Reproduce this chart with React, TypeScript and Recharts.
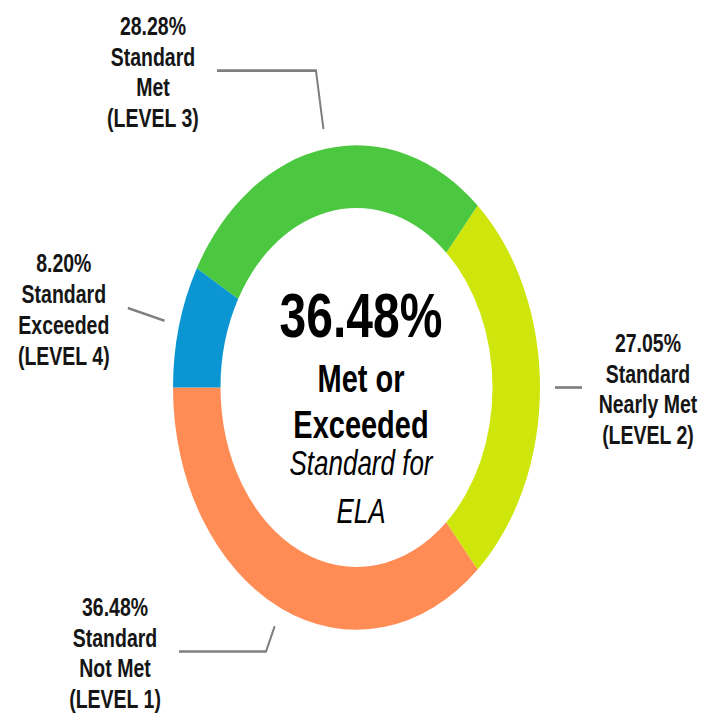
import { PieChart, Pie, Cell } from 'recharts';

const LEVEL_NAMES = ['Not Met', 'Nearly Met', 'Met', 'Exceeded'];
const LEVEL_TAGS = ['(LEVEL 1)', '(LEVEL 2)', '(LEVEL 3)', '(LEVEL 4)'];
const PERCENTS = [36.48, 27.05, 28.28, 8.2];
const SUBJECT = 'ELA';

const COLORS = ['#ff8b55', '#cfe60c', '#4cc840', '#0b96d3'];
// elbow distance past the ring and horizontal tail of each leader line
const LEADER_EXT = [36, 42, 60, 53];
const LEADER_TAIL = [-87, 0, -99, 0];

// the source image is stretched vertically, so the whole chart is scaled in y
const STRETCH = 1.32;
const W = 703;
const H = 715;
const CX = 356.5;
const CY = 387.5;
const OUTER = 183.5;
const INNER = 136;
const FONT = '"Liberation Sans", Arial, sans-serif';
const RAD = Math.PI / 180;

const data = PERCENTS.map((value, i) => ({ name: LEVEL_NAMES[i], value }));
const metOrExceeded = (PERCENTS[2] + PERCENTS[3]).toFixed(2) + '%';

function renderLabel(props: any) {
  const { cx, cy, midAngle, outerRadius, index, value } = props;
  const cos = Math.cos(-midAngle * RAD);
  const sin = Math.sin(-midAngle * RAD);
  const x1 = cx + (outerRadius + 15) * cos;
  const y1 = cy + (outerRadius + 15) * sin;
  const x2 = cx + (outerRadius + LEADER_EXT[index]) * cos;
  const y2 = cy + (outerRadius + LEADER_EXT[index]) * sin;
  const x3 = x2 + LEADER_TAIL[index];
  const tx = x3 + (cos < 0 ? -64 : 66);
  const lines = [value.toFixed(2) + '%', 'Standard', LEVEL_NAMES[index], LEVEL_TAGS[index]];
  return (
    <g key={`label-${index}`}>
      <polyline points={`${x1},${y1} ${x2},${y2} ${x3},${y2}`} fill="none" stroke="#7f7f7f" strokeWidth={2} />
      <text x={tx} y={y2 - 27} textAnchor="middle" fontFamily={FONT} fontSize={19.5} fontWeight="bold" fill="#151515">
        {lines.map((l, i) => (
          <tspan key={i} x={tx} dy={i === 0 ? 0 : 23.3}>{l}</tspan>
        ))}
      </text>
    </g>
  );
}

function CenterText() {
  const x = CX + 4.5;
  return (
    <svg width={W} height={H} style={{ position: 'absolute', left: 0, top: 0, pointerEvents: 'none' }}>
      <g fontFamily={FONT} fill="#000" textAnchor="middle">
        <text x={x} y={CY - 38.3} fontSize={48} fontWeight="bold">{metOrExceeded}</text>
        <text x={x} y={CY + 3.4} fontSize={29} fontWeight="bold">Met or</text>
        <text x={x} y={CY + 38.3} fontSize={29} fontWeight="bold">Exceeded</text>
        <text x={x} y={CY + 66.3} fontSize={26} fontStyle="italic">Standard for</text>
        <text x={x} y={CY + 102.6} fontSize={26} fontStyle="italic">{SUBJECT}</text>
      </g>
    </svg>
  );
}

export default function App() {
  return (
    <div style={{ position: 'absolute', left: 0, top: 0, width: W, height: H, overflow: 'hidden', background: '#fff' }}>
      <div style={{ position: 'relative', width: W, height: H, transform: `scaleY(${STRETCH})`, transformOrigin: `0px ${CY}px` }}>
        <PieChart width={W} height={H} margin={{ top: 0, right: 0, bottom: 0, left: 0 }}>
          <Pie
            data={data}
            dataKey="value"
            nameKey="name"
            cx={CX}
            cy={CY}
            innerRadius={INNER}
            outerRadius={OUTER}
            startAngle={180}
            endAngle={540}
            stroke="none"
            label={renderLabel}
            labelLine={false}
            isAnimationActive={false}
          >
            {data.map((_, i) => (
              <Cell key={`cell-${i}`} fill={COLORS[i]} />
            ))}
          </Pie>
        </PieChart>
        <CenterText />
      </div>
    </div>
  );
}
